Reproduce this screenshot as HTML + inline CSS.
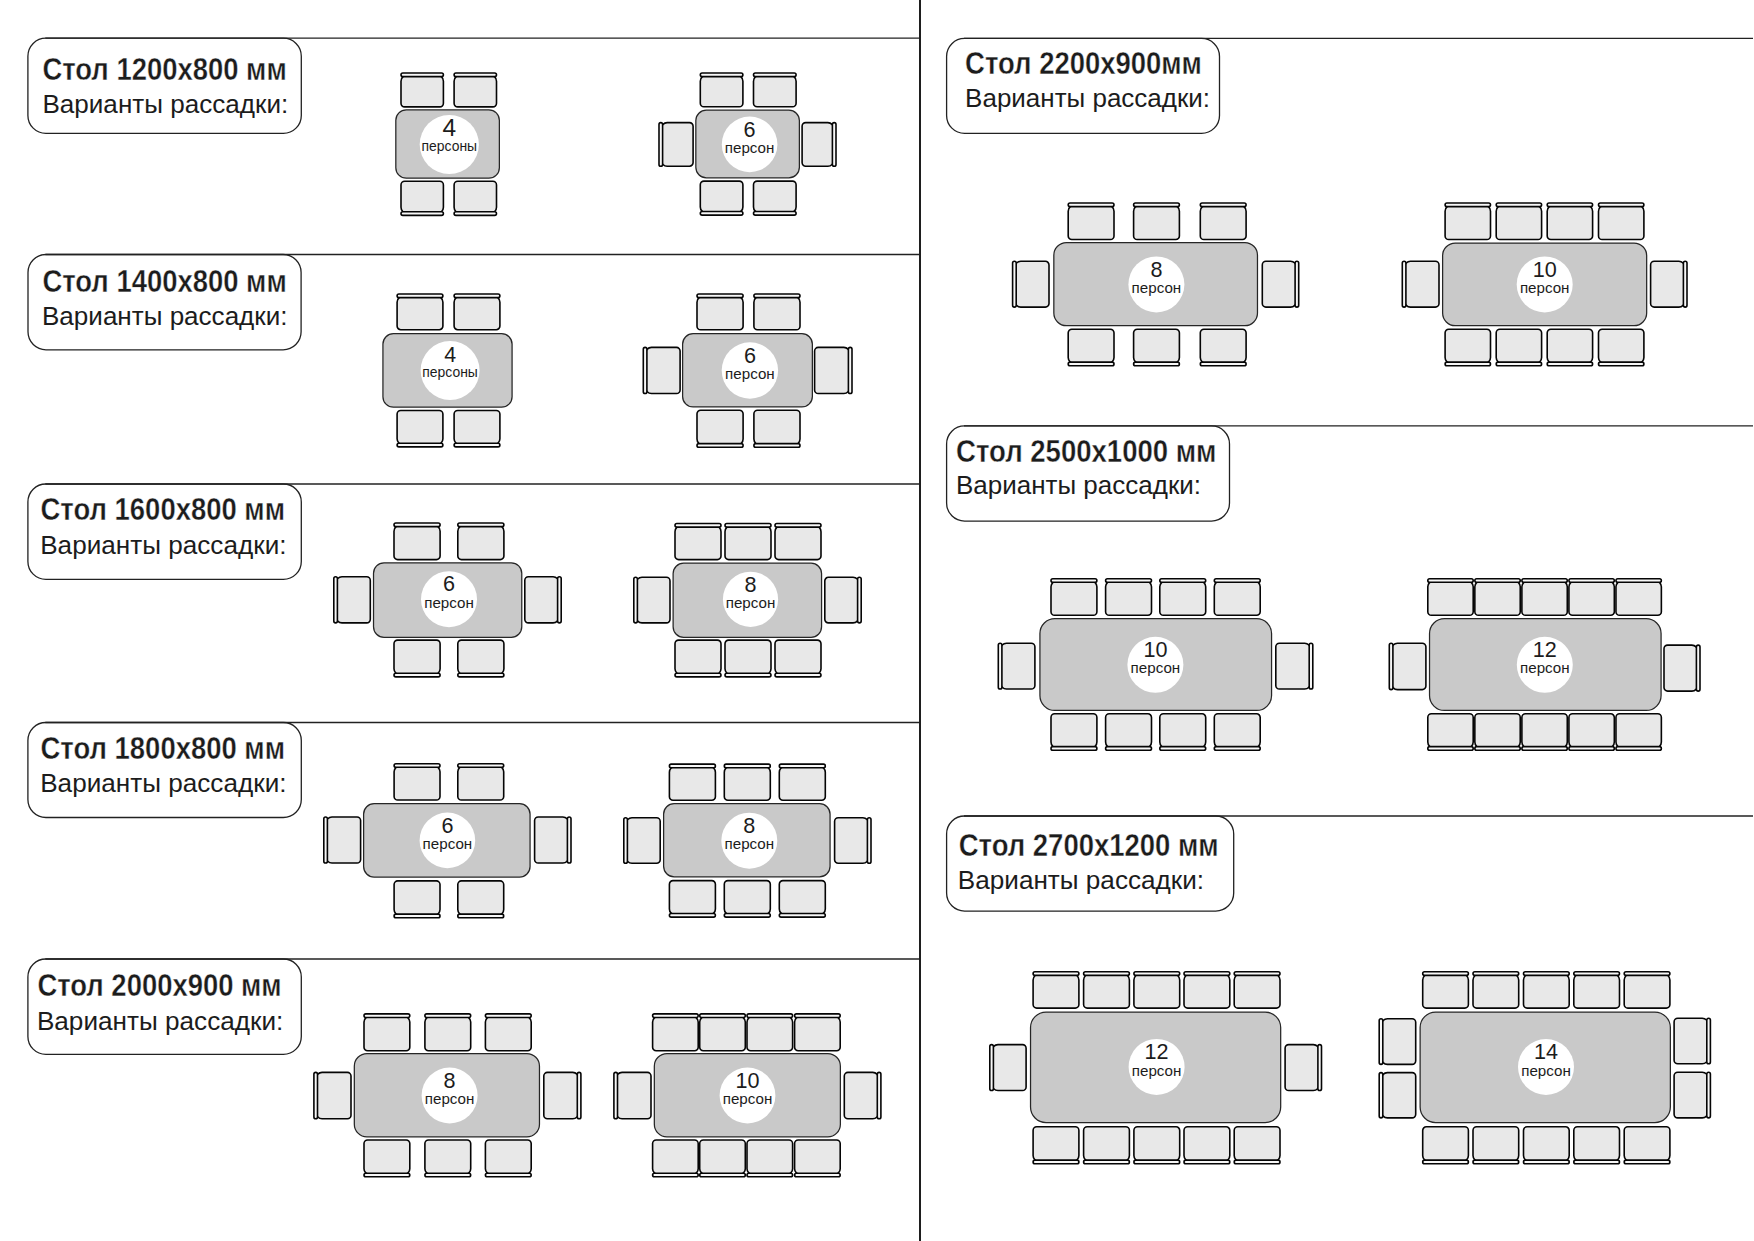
<!DOCTYPE html>
<html><head><meta charset="utf-8"><title>Рассадка</title>
<style>
html,body{margin:0;padding:0;background:#fff;width:1754px;height:1241px;overflow:hidden}
svg{display:block}
text{font-family:"Liberation Sans",sans-serif;fill:#1c1c1c}
</style></head><body>
<svg width="1754" height="1241" viewBox="0 0 1754 1241">
<line x1="45.3" y1="38.2" x2="920" y2="38.2" stroke="#222" stroke-width="1.3"/>
<line x1="45.4" y1="254.5" x2="920" y2="254.5" stroke="#222" stroke-width="1.3"/>
<line x1="45.3" y1="484" x2="920" y2="484" stroke="#222" stroke-width="1.3"/>
<line x1="45.3" y1="722.5" x2="920" y2="722.5" stroke="#222" stroke-width="1.3"/>
<line x1="45.3" y1="959" x2="920" y2="959" stroke="#222" stroke-width="1.3"/>
<line x1="964" y1="38.4" x2="1753" y2="38.4" stroke="#222" stroke-width="1.3"/>
<line x1="964" y1="425.9" x2="1753" y2="425.9" stroke="#222" stroke-width="1.3"/>
<line x1="964" y1="816" x2="1753" y2="816" stroke="#222" stroke-width="1.3"/>
<rect x="919" y="0" width="2" height="1241" fill="#1e1e1e"/>
<rect x="27.9" y="38.2" width="273.4" height="95.2" rx="18" fill="none" stroke="#222" stroke-width="1.3"/>
<text x="42.4" y="79.9" font-size="31" font-weight="bold" textLength="244.3" lengthAdjust="spacingAndGlyphs" stroke="#fff" stroke-width="0.35">Стол 1200x800 мм</text>
<text x="42.4" y="112.6" font-size="25.5" textLength="245.9" lengthAdjust="spacingAndGlyphs" class="t">Варианты рассадки:</text>
<rect x="28" y="254.5" width="273.1" height="95.3" rx="18" fill="none" stroke="#222" stroke-width="1.3"/>
<text x="42.4" y="292" font-size="31" font-weight="bold" textLength="244.3" lengthAdjust="spacingAndGlyphs" stroke="#fff" stroke-width="0.35">Стол 1400x800 мм</text>
<text x="42" y="325" font-size="25.5" textLength="245.5" lengthAdjust="spacingAndGlyphs" class="t">Варианты рассадки:</text>
<rect x="27.9" y="484" width="273.4" height="95.4" rx="18" fill="none" stroke="#222" stroke-width="1.3"/>
<text x="40.5" y="519.7" font-size="31" font-weight="bold" textLength="244.5" lengthAdjust="spacingAndGlyphs" stroke="#fff" stroke-width="0.35">Стол 1600x800 мм</text>
<text x="40.2" y="553.9" font-size="25.5" textLength="246.3" lengthAdjust="spacingAndGlyphs" class="t">Варианты рассадки:</text>
<rect x="27.9" y="722.5" width="273.4" height="95" rx="18" fill="none" stroke="#222" stroke-width="1.3"/>
<text x="40.5" y="759.2" font-size="31" font-weight="bold" textLength="244.5" lengthAdjust="spacingAndGlyphs" stroke="#fff" stroke-width="0.35">Стол 1800x800 мм</text>
<text x="40.2" y="791.7" font-size="25.5" textLength="246.3" lengthAdjust="spacingAndGlyphs" class="t">Варианты рассадки:</text>
<rect x="27.9" y="959" width="273.4" height="95.4" rx="18" fill="none" stroke="#222" stroke-width="1.3"/>
<text x="37.4" y="996.2" font-size="31" font-weight="bold" textLength="244.2" lengthAdjust="spacingAndGlyphs" stroke="#fff" stroke-width="0.35">Стол 2000x900 мм</text>
<text x="36.9" y="1030.3" font-size="25.5" textLength="246.5" lengthAdjust="spacingAndGlyphs" class="t">Варианты рассадки:</text>
<rect x="946.6" y="38.4" width="272.9" height="95" rx="18" fill="none" stroke="#222" stroke-width="1.3"/>
<text x="965.1" y="74.4" font-size="31" font-weight="bold" textLength="236.8" lengthAdjust="spacingAndGlyphs" stroke="#fff" stroke-width="0.35">Стол 2200x900мм</text>
<text x="965.1" y="106.7" font-size="25.5" textLength="245" lengthAdjust="spacingAndGlyphs" class="t">Варианты рассадки:</text>
<rect x="946.6" y="425.9" width="282.9" height="95.2" rx="18" fill="none" stroke="#222" stroke-width="1.3"/>
<text x="956" y="462" font-size="31" font-weight="bold" textLength="260.5" lengthAdjust="spacingAndGlyphs" stroke="#fff" stroke-width="0.35">Стол 2500x1000 мм</text>
<text x="956" y="494.3" font-size="25.5" textLength="245" lengthAdjust="spacingAndGlyphs" class="t">Варианты рассадки:</text>
<rect x="946.6" y="816" width="287.1" height="95.1" rx="18" fill="none" stroke="#222" stroke-width="1.3"/>
<text x="958.7" y="856.2" font-size="31" font-weight="bold" textLength="260" lengthAdjust="spacingAndGlyphs" stroke="#fff" stroke-width="0.35">Стол 2700x1200 мм</text>
<text x="957.8" y="889.4" font-size="25.5" textLength="246.3" lengthAdjust="spacingAndGlyphs" class="t">Варианты рассадки:</text>
<rect x="395.82" y="109.83" width="103.55" height="68.35" rx="10.5" fill="#c9c9c9" stroke="#262626" stroke-width="1.25"/>
<path d="M407,75.16 H437.4 A6,6 0 0 1 443.4,81.16 V103.3 A3.6,3.6 0 0 1 439.8,106.9 H404.6 A3.6,3.6 0 0 1 401,103.3 V81.16 A6,6 0 0 1 407,75.16 Z" fill="#e8e8e8" stroke="#050505" stroke-width="1.6"/>
<rect x="401" y="73" width="42.4" height="3.6" rx="1.8" fill="#f7f7f7" stroke="#050505" stroke-width="1.6"/>
<path d="M460.1,75.16 H490.5 A6,6 0 0 1 496.5,81.16 V103.3 A3.6,3.6 0 0 1 492.9,106.9 H457.7 A3.6,3.6 0 0 1 454.1,103.3 V81.16 A6,6 0 0 1 460.1,75.16 Z" fill="#e8e8e8" stroke="#050505" stroke-width="1.6"/>
<rect x="454.1" y="73" width="42.4" height="3.6" rx="1.8" fill="#f7f7f7" stroke="#050505" stroke-width="1.6"/>
<path d="M404.6,181.3 H439.8 A3.6,3.6 0 0 1 443.4,184.9 V207.24 A6,6 0 0 1 437.4,213.24 H407 A6,6 0 0 1 401,207.24 V184.9 A3.6,3.6 0 0 1 404.6,181.3 Z" fill="#e8e8e8" stroke="#050505" stroke-width="1.6"/>
<rect x="401" y="211.8" width="42.4" height="3.6" rx="1.8" fill="#f7f7f7" stroke="#050505" stroke-width="1.6"/>
<path d="M457.7,181.3 H492.9 A3.6,3.6 0 0 1 496.5,184.9 V207.24 A6,6 0 0 1 490.5,213.24 H460.1 A6,6 0 0 1 454.1,207.24 V184.9 A3.6,3.6 0 0 1 457.7,181.3 Z" fill="#e8e8e8" stroke="#050505" stroke-width="1.6"/>
<rect x="454.1" y="211.8" width="42.4" height="3.6" rx="1.8" fill="#f7f7f7" stroke="#050505" stroke-width="1.6"/>
<circle cx="449.3" cy="144.5" r="29.6" fill="#fff"/>
<text x="449.3" y="135.8" font-size="24.5" text-anchor="middle" class="n">4</text>
<text x="421.55" y="150.6" font-size="14.4" textLength="55.5" lengthAdjust="spacingAndGlyphs" class="n">персоны</text>
<rect x="695.83" y="110.12" width="103.55" height="67.65" rx="10.5" fill="#c9c9c9" stroke="#262626" stroke-width="1.25"/>
<path d="M706.3,75.16 H736.9 A6,6 0 0 1 742.9,81.16 V103.2 A3.6,3.6 0 0 1 739.3,106.8 H703.9 A3.6,3.6 0 0 1 700.3,103.2 V81.16 A6,6 0 0 1 706.3,75.16 Z" fill="#e8e8e8" stroke="#050505" stroke-width="1.6"/>
<rect x="700.3" y="73" width="42.6" height="3.6" rx="1.8" fill="#f7f7f7" stroke="#050505" stroke-width="1.6"/>
<path d="M759.5,75.16 H790.1 A6,6 0 0 1 796.1,81.16 V103.2 A3.6,3.6 0 0 1 792.5,106.8 H757.1 A3.6,3.6 0 0 1 753.5,103.2 V81.16 A6,6 0 0 1 759.5,75.16 Z" fill="#e8e8e8" stroke="#050505" stroke-width="1.6"/>
<rect x="753.5" y="73" width="42.6" height="3.6" rx="1.8" fill="#f7f7f7" stroke="#050505" stroke-width="1.6"/>
<path d="M703.9,181.1 H739.3 A3.6,3.6 0 0 1 742.9,184.7 V206.94 A6,6 0 0 1 736.9,212.94 H706.3 A6,6 0 0 1 700.3,206.94 V184.7 A3.6,3.6 0 0 1 703.9,181.1 Z" fill="#e8e8e8" stroke="#050505" stroke-width="1.6"/>
<rect x="700.3" y="211.5" width="42.6" height="3.6" rx="1.8" fill="#f7f7f7" stroke="#050505" stroke-width="1.6"/>
<path d="M757.1,181.1 H792.5 A3.6,3.6 0 0 1 796.1,184.7 V206.94 A6,6 0 0 1 790.1,212.94 H759.5 A6,6 0 0 1 753.5,206.94 V184.7 A3.6,3.6 0 0 1 757.1,181.1 Z" fill="#e8e8e8" stroke="#050505" stroke-width="1.6"/>
<rect x="753.5" y="211.5" width="42.6" height="3.6" rx="1.8" fill="#f7f7f7" stroke="#050505" stroke-width="1.6"/>
<path d="M667.16,122.6 H689.5 A3.6,3.6 0 0 1 693.1,126.2 V162.6 A3.6,3.6 0 0 1 689.5,166.2 H667.16 A6,6 0 0 1 661.16,160.2 V128.6 A6,6 0 0 1 667.16,122.6 Z" fill="#e8e8e8" stroke="#050505" stroke-width="1.6"/>
<rect x="659" y="122.6" width="3.6" height="43.6" rx="1.8" fill="#f7f7f7" stroke="#050505" stroke-width="1.6"/>
<path d="M805.7,122.6 H827.84 A6,6 0 0 1 833.84,128.6 V160.2 A6,6 0 0 1 827.84,166.2 H805.7 A3.6,3.6 0 0 1 802.1,162.6 V126.2 A3.6,3.6 0 0 1 805.7,122.6 Z" fill="#e8e8e8" stroke="#050505" stroke-width="1.6"/>
<rect x="832.4" y="122.6" width="3.6" height="43.6" rx="1.8" fill="#f7f7f7" stroke="#050505" stroke-width="1.6"/>
<circle cx="749.6" cy="144.4" r="27.8" fill="#fff"/>
<text x="749.6" y="136.6" font-size="21.6" text-anchor="middle" class="n">6</text>
<text x="724.8" y="153" font-size="15" textLength="49.6" lengthAdjust="spacingAndGlyphs" class="n">персон</text>
<rect x="382.93" y="333.62" width="129.15" height="73.55" rx="10.5" fill="#c9c9c9" stroke="#262626" stroke-width="1.25"/>
<path d="M403.1,296.16 H436.9 A6,6 0 0 1 442.9,302.16 V326.1 A3.6,3.6 0 0 1 439.3,329.7 H400.7 A3.6,3.6 0 0 1 397.1,326.1 V302.16 A6,6 0 0 1 403.1,296.16 Z" fill="#e8e8e8" stroke="#050505" stroke-width="1.6"/>
<rect x="397.1" y="294" width="45.8" height="3.6" rx="1.8" fill="#f7f7f7" stroke="#050505" stroke-width="1.6"/>
<path d="M460.1,296.16 H493.9 A6,6 0 0 1 499.9,302.16 V326.1 A3.6,3.6 0 0 1 496.3,329.7 H457.7 A3.6,3.6 0 0 1 454.1,326.1 V302.16 A6,6 0 0 1 460.1,296.16 Z" fill="#e8e8e8" stroke="#050505" stroke-width="1.6"/>
<rect x="454.1" y="294" width="45.8" height="3.6" rx="1.8" fill="#f7f7f7" stroke="#050505" stroke-width="1.6"/>
<path d="M400.7,410.5 H439.3 A3.6,3.6 0 0 1 442.9,414.1 V438.74 A6,6 0 0 1 436.9,444.74 H403.1 A6,6 0 0 1 397.1,438.74 V414.1 A3.6,3.6 0 0 1 400.7,410.5 Z" fill="#e8e8e8" stroke="#050505" stroke-width="1.6"/>
<rect x="397.1" y="443.3" width="45.8" height="3.6" rx="1.8" fill="#f7f7f7" stroke="#050505" stroke-width="1.6"/>
<path d="M457.7,410.5 H496.3 A3.6,3.6 0 0 1 499.9,414.1 V438.74 A6,6 0 0 1 493.9,444.74 H460.1 A6,6 0 0 1 454.1,438.74 V414.1 A3.6,3.6 0 0 1 457.7,410.5 Z" fill="#e8e8e8" stroke="#050505" stroke-width="1.6"/>
<rect x="454.1" y="443.3" width="45.8" height="3.6" rx="1.8" fill="#f7f7f7" stroke="#050505" stroke-width="1.6"/>
<circle cx="450.1" cy="370.5" r="29.5" fill="#fff"/>
<text x="450.1" y="361.8" font-size="21.4" text-anchor="middle" class="n">4</text>
<text x="422.35" y="376.6" font-size="14.4" textLength="55.5" lengthAdjust="spacingAndGlyphs" class="n">персоны</text>
<rect x="682.62" y="333.62" width="129.75" height="73.35" rx="10.5" fill="#c9c9c9" stroke="#262626" stroke-width="1.25"/>
<path d="M703,296.16 H737.1 A6,6 0 0 1 743.1,302.16 V326.2 A3.6,3.6 0 0 1 739.5,329.8 H700.6 A3.6,3.6 0 0 1 697,326.2 V302.16 A6,6 0 0 1 703,296.16 Z" fill="#e8e8e8" stroke="#050505" stroke-width="1.6"/>
<rect x="697" y="294" width="46.1" height="3.6" rx="1.8" fill="#f7f7f7" stroke="#050505" stroke-width="1.6"/>
<path d="M759.9,296.16 H794 A6,6 0 0 1 800,302.16 V326.2 A3.6,3.6 0 0 1 796.4,329.8 H757.5 A3.6,3.6 0 0 1 753.9,326.2 V302.16 A6,6 0 0 1 759.9,296.16 Z" fill="#e8e8e8" stroke="#050505" stroke-width="1.6"/>
<rect x="753.9" y="294" width="46.1" height="3.6" rx="1.8" fill="#f7f7f7" stroke="#050505" stroke-width="1.6"/>
<path d="M700.6,410.2 H739.5 A3.6,3.6 0 0 1 743.1,413.8 V439.04 A6,6 0 0 1 737.1,445.04 H703 A6,6 0 0 1 697,439.04 V413.8 A3.6,3.6 0 0 1 700.6,410.2 Z" fill="#e8e8e8" stroke="#050505" stroke-width="1.6"/>
<rect x="697" y="443.6" width="46.1" height="3.6" rx="1.8" fill="#f7f7f7" stroke="#050505" stroke-width="1.6"/>
<path d="M757.5,410.2 H796.4 A3.6,3.6 0 0 1 800,413.8 V439.04 A6,6 0 0 1 794,445.04 H759.9 A6,6 0 0 1 753.9,439.04 V413.8 A3.6,3.6 0 0 1 757.5,410.2 Z" fill="#e8e8e8" stroke="#050505" stroke-width="1.6"/>
<rect x="753.9" y="443.6" width="46.1" height="3.6" rx="1.8" fill="#f7f7f7" stroke="#050505" stroke-width="1.6"/>
<path d="M651.46,347.4 H676.5 A3.6,3.6 0 0 1 680.1,351 V389.9 A3.6,3.6 0 0 1 676.5,393.5 H651.46 A6,6 0 0 1 645.46,387.5 V353.4 A6,6 0 0 1 651.46,347.4 Z" fill="#e8e8e8" stroke="#050505" stroke-width="1.6"/>
<rect x="643.3" y="347.4" width="3.6" height="46.1" rx="1.8" fill="#f7f7f7" stroke="#050505" stroke-width="1.6"/>
<path d="M818.2,347.4 H843.84 A6,6 0 0 1 849.84,353.4 V387.5 A6,6 0 0 1 843.84,393.5 H818.2 A3.6,3.6 0 0 1 814.6,389.9 V351 A3.6,3.6 0 0 1 818.2,347.4 Z" fill="#e8e8e8" stroke="#050505" stroke-width="1.6"/>
<rect x="848.4" y="347.4" width="3.6" height="46.1" rx="1.8" fill="#f7f7f7" stroke="#050505" stroke-width="1.6"/>
<circle cx="749.9" cy="370.5" r="28.2" fill="#fff"/>
<text x="749.9" y="362.7" font-size="21.6" text-anchor="middle" class="n">6</text>
<text x="725.1" y="379.1" font-size="15" textLength="49.6" lengthAdjust="spacingAndGlyphs" class="n">персон</text>
<rect x="373.52" y="562.83" width="148.25" height="74.45" rx="10.5" fill="#c9c9c9" stroke="#262626" stroke-width="1.25"/>
<path d="M400,525.16 H434.1 A6,6 0 0 1 440.1,531.16 V556 A3.6,3.6 0 0 1 436.5,559.6 H397.6 A3.6,3.6 0 0 1 394,556 V531.16 A6,6 0 0 1 400,525.16 Z" fill="#e8e8e8" stroke="#050505" stroke-width="1.6"/>
<rect x="394" y="523" width="46.1" height="3.6" rx="1.8" fill="#f7f7f7" stroke="#050505" stroke-width="1.6"/>
<path d="M463.8,525.16 H497.9 A6,6 0 0 1 503.9,531.16 V556 A3.6,3.6 0 0 1 500.3,559.6 H461.4 A3.6,3.6 0 0 1 457.8,556 V531.16 A6,6 0 0 1 463.8,525.16 Z" fill="#e8e8e8" stroke="#050505" stroke-width="1.6"/>
<rect x="457.8" y="523" width="46.1" height="3.6" rx="1.8" fill="#f7f7f7" stroke="#050505" stroke-width="1.6"/>
<path d="M397.6,640.1 H436.5 A3.6,3.6 0 0 1 440.1,643.7 V668.74 A6,6 0 0 1 434.1,674.74 H400 A6,6 0 0 1 394,668.74 V643.7 A3.6,3.6 0 0 1 397.6,640.1 Z" fill="#e8e8e8" stroke="#050505" stroke-width="1.6"/>
<rect x="394" y="673.3" width="46.1" height="3.6" rx="1.8" fill="#f7f7f7" stroke="#050505" stroke-width="1.6"/>
<path d="M461.4,640.1 H500.3 A3.6,3.6 0 0 1 503.9,643.7 V668.74 A6,6 0 0 1 497.9,674.74 H463.8 A6,6 0 0 1 457.8,668.74 V643.7 A3.6,3.6 0 0 1 461.4,640.1 Z" fill="#e8e8e8" stroke="#050505" stroke-width="1.6"/>
<rect x="457.8" y="673.3" width="46.1" height="3.6" rx="1.8" fill="#f7f7f7" stroke="#050505" stroke-width="1.6"/>
<path d="M341.96,576.8 H366.7 A3.6,3.6 0 0 1 370.3,580.4 V619.3 A3.6,3.6 0 0 1 366.7,622.9 H341.96 A6,6 0 0 1 335.96,616.9 V582.8 A6,6 0 0 1 341.96,576.8 Z" fill="#e8e8e8" stroke="#050505" stroke-width="1.6"/>
<rect x="333.8" y="576.8" width="3.6" height="46.1" rx="1.8" fill="#f7f7f7" stroke="#050505" stroke-width="1.6"/>
<path d="M528.4,576.8 H553.04 A6,6 0 0 1 559.04,582.8 V616.9 A6,6 0 0 1 553.04,622.9 H528.4 A3.6,3.6 0 0 1 524.8,619.3 V580.4 A3.6,3.6 0 0 1 528.4,576.8 Z" fill="#e8e8e8" stroke="#050505" stroke-width="1.6"/>
<rect x="557.6" y="576.8" width="3.6" height="46.1" rx="1.8" fill="#f7f7f7" stroke="#050505" stroke-width="1.6"/>
<circle cx="449" cy="599.2" r="28" fill="#fff"/>
<text x="449" y="591.4" font-size="21.6" text-anchor="middle" class="n">6</text>
<text x="424.2" y="607.8" font-size="15" textLength="49.6" lengthAdjust="spacingAndGlyphs" class="n">персон</text>
<rect x="673.12" y="563.12" width="148.45" height="74.15" rx="10.5" fill="#c9c9c9" stroke="#262626" stroke-width="1.25"/>
<path d="M681,525.66 H715 A6,6 0 0 1 721,531.66 V556 A3.6,3.6 0 0 1 717.4,559.6 H678.6 A3.6,3.6 0 0 1 675,556 V531.66 A6,6 0 0 1 681,525.66 Z" fill="#e8e8e8" stroke="#050505" stroke-width="1.6"/>
<rect x="675" y="523.5" width="46" height="3.6" rx="1.8" fill="#f7f7f7" stroke="#050505" stroke-width="1.6"/>
<path d="M731,525.66 H765 A6,6 0 0 1 771,531.66 V556 A3.6,3.6 0 0 1 767.4,559.6 H728.6 A3.6,3.6 0 0 1 725,556 V531.66 A6,6 0 0 1 731,525.66 Z" fill="#e8e8e8" stroke="#050505" stroke-width="1.6"/>
<rect x="725" y="523.5" width="46" height="3.6" rx="1.8" fill="#f7f7f7" stroke="#050505" stroke-width="1.6"/>
<path d="M781,525.66 H815 A6,6 0 0 1 821,531.66 V556 A3.6,3.6 0 0 1 817.4,559.6 H778.6 A3.6,3.6 0 0 1 775,556 V531.66 A6,6 0 0 1 781,525.66 Z" fill="#e8e8e8" stroke="#050505" stroke-width="1.6"/>
<rect x="775" y="523.5" width="46" height="3.6" rx="1.8" fill="#f7f7f7" stroke="#050505" stroke-width="1.6"/>
<path d="M678.6,640.1 H717.4 A3.6,3.6 0 0 1 721,643.7 V668.74 A6,6 0 0 1 715,674.74 H681 A6,6 0 0 1 675,668.74 V643.7 A3.6,3.6 0 0 1 678.6,640.1 Z" fill="#e8e8e8" stroke="#050505" stroke-width="1.6"/>
<rect x="675" y="673.3" width="46" height="3.6" rx="1.8" fill="#f7f7f7" stroke="#050505" stroke-width="1.6"/>
<path d="M728.6,640.1 H767.4 A3.6,3.6 0 0 1 771,643.7 V668.74 A6,6 0 0 1 765,674.74 H731 A6,6 0 0 1 725,668.74 V643.7 A3.6,3.6 0 0 1 728.6,640.1 Z" fill="#e8e8e8" stroke="#050505" stroke-width="1.6"/>
<rect x="725" y="673.3" width="46" height="3.6" rx="1.8" fill="#f7f7f7" stroke="#050505" stroke-width="1.6"/>
<path d="M778.6,640.1 H817.4 A3.6,3.6 0 0 1 821,643.7 V668.74 A6,6 0 0 1 815,674.74 H781 A6,6 0 0 1 775,668.74 V643.7 A3.6,3.6 0 0 1 778.6,640.1 Z" fill="#e8e8e8" stroke="#050505" stroke-width="1.6"/>
<rect x="775" y="673.3" width="46" height="3.6" rx="1.8" fill="#f7f7f7" stroke="#050505" stroke-width="1.6"/>
<path d="M641.96,577.3 H666.4 A3.6,3.6 0 0 1 670,580.9 V619.3 A3.6,3.6 0 0 1 666.4,622.9 H641.96 A6,6 0 0 1 635.96,616.9 V583.3 A6,6 0 0 1 641.96,577.3 Z" fill="#e8e8e8" stroke="#050505" stroke-width="1.6"/>
<rect x="633.8" y="577.3" width="3.6" height="45.6" rx="1.8" fill="#f7f7f7" stroke="#050505" stroke-width="1.6"/>
<path d="M828.4,577.3 H853.04 A6,6 0 0 1 859.04,583.3 V616.9 A6,6 0 0 1 853.04,622.9 H828.4 A3.6,3.6 0 0 1 824.8,619.3 V580.9 A3.6,3.6 0 0 1 828.4,577.3 Z" fill="#e8e8e8" stroke="#050505" stroke-width="1.6"/>
<rect x="857.6" y="577.3" width="3.6" height="45.6" rx="1.8" fill="#f7f7f7" stroke="#050505" stroke-width="1.6"/>
<circle cx="750.5" cy="599.3" r="27.6" fill="#fff"/>
<text x="750.5" y="591.5" font-size="21.6" text-anchor="middle" class="n">8</text>
<text x="725.7" y="607.9" font-size="15" textLength="49.6" lengthAdjust="spacingAndGlyphs" class="n">персон</text>
<rect x="363.62" y="803.62" width="166.45" height="73.45" rx="10.5" fill="#c9c9c9" stroke="#262626" stroke-width="1.25"/>
<path d="M400.1,765.86 H434 A6,6 0 0 1 440,771.86 V796.4 A3.6,3.6 0 0 1 436.4,800 H397.7 A3.6,3.6 0 0 1 394.1,796.4 V771.86 A6,6 0 0 1 400.1,765.86 Z" fill="#e8e8e8" stroke="#050505" stroke-width="1.6"/>
<rect x="394.1" y="763.7" width="45.9" height="3.6" rx="1.8" fill="#f7f7f7" stroke="#050505" stroke-width="1.6"/>
<path d="M463.8,765.86 H497.7 A6,6 0 0 1 503.7,771.86 V796.4 A3.6,3.6 0 0 1 500.1,800 H461.4 A3.6,3.6 0 0 1 457.8,796.4 V771.86 A6,6 0 0 1 463.8,765.86 Z" fill="#e8e8e8" stroke="#050505" stroke-width="1.6"/>
<rect x="457.8" y="763.7" width="45.9" height="3.6" rx="1.8" fill="#f7f7f7" stroke="#050505" stroke-width="1.6"/>
<path d="M397.7,880.9 H436.4 A3.6,3.6 0 0 1 440,884.5 V909.54 A6,6 0 0 1 434,915.54 H400.1 A6,6 0 0 1 394.1,909.54 V884.5 A3.6,3.6 0 0 1 397.7,880.9 Z" fill="#e8e8e8" stroke="#050505" stroke-width="1.6"/>
<rect x="394.1" y="914.1" width="45.9" height="3.6" rx="1.8" fill="#f7f7f7" stroke="#050505" stroke-width="1.6"/>
<path d="M461.4,880.9 H500.1 A3.6,3.6 0 0 1 503.7,884.5 V909.54 A6,6 0 0 1 497.7,915.54 H463.8 A6,6 0 0 1 457.8,909.54 V884.5 A3.6,3.6 0 0 1 461.4,880.9 Z" fill="#e8e8e8" stroke="#050505" stroke-width="1.6"/>
<rect x="457.8" y="914.1" width="45.9" height="3.6" rx="1.8" fill="#f7f7f7" stroke="#050505" stroke-width="1.6"/>
<path d="M331.96,817 H357 A3.6,3.6 0 0 1 360.6,820.6 V859.4 A3.6,3.6 0 0 1 357,863 H331.96 A6,6 0 0 1 325.96,857 V823 A6,6 0 0 1 331.96,817 Z" fill="#e8e8e8" stroke="#050505" stroke-width="1.6"/>
<rect x="323.8" y="817" width="3.6" height="46" rx="1.8" fill="#f7f7f7" stroke="#050505" stroke-width="1.6"/>
<path d="M538.2,817 H562.84 A6,6 0 0 1 568.84,823 V857 A6,6 0 0 1 562.84,863 H538.2 A3.6,3.6 0 0 1 534.6,859.4 V820.6 A3.6,3.6 0 0 1 538.2,817 Z" fill="#e8e8e8" stroke="#050505" stroke-width="1.6"/>
<rect x="567.4" y="817" width="3.6" height="46" rx="1.8" fill="#f7f7f7" stroke="#050505" stroke-width="1.6"/>
<circle cx="447.4" cy="840.4" r="27.8" fill="#fff"/>
<text x="447.4" y="832.6" font-size="21.6" text-anchor="middle" class="n">6</text>
<text x="422.6" y="849" font-size="15" textLength="49.6" lengthAdjust="spacingAndGlyphs" class="n">персон</text>
<rect x="663.62" y="803.62" width="166.45" height="73.15" rx="10.5" fill="#c9c9c9" stroke="#262626" stroke-width="1.25"/>
<path d="M675.4,766.26 H709.4 A6,6 0 0 1 715.4,772.26 V796.7 A3.6,3.6 0 0 1 711.8,800.3 H673 A3.6,3.6 0 0 1 669.4,796.7 V772.26 A6,6 0 0 1 675.4,766.26 Z" fill="#e8e8e8" stroke="#050505" stroke-width="1.6"/>
<rect x="669.4" y="764.1" width="46" height="3.6" rx="1.8" fill="#f7f7f7" stroke="#050505" stroke-width="1.6"/>
<path d="M730.3,766.26 H764.3 A6,6 0 0 1 770.3,772.26 V796.7 A3.6,3.6 0 0 1 766.7,800.3 H727.9 A3.6,3.6 0 0 1 724.3,796.7 V772.26 A6,6 0 0 1 730.3,766.26 Z" fill="#e8e8e8" stroke="#050505" stroke-width="1.6"/>
<rect x="724.3" y="764.1" width="46" height="3.6" rx="1.8" fill="#f7f7f7" stroke="#050505" stroke-width="1.6"/>
<path d="M785.3,766.26 H819.3 A6,6 0 0 1 825.3,772.26 V796.7 A3.6,3.6 0 0 1 821.7,800.3 H782.9 A3.6,3.6 0 0 1 779.3,796.7 V772.26 A6,6 0 0 1 785.3,766.26 Z" fill="#e8e8e8" stroke="#050505" stroke-width="1.6"/>
<rect x="779.3" y="764.1" width="46" height="3.6" rx="1.8" fill="#f7f7f7" stroke="#050505" stroke-width="1.6"/>
<path d="M673,880.6 H711.8 A3.6,3.6 0 0 1 715.4,884.2 V908.94 A6,6 0 0 1 709.4,914.94 H675.4 A6,6 0 0 1 669.4,908.94 V884.2 A3.6,3.6 0 0 1 673,880.6 Z" fill="#e8e8e8" stroke="#050505" stroke-width="1.6"/>
<rect x="669.4" y="913.5" width="46" height="3.6" rx="1.8" fill="#f7f7f7" stroke="#050505" stroke-width="1.6"/>
<path d="M727.9,880.6 H766.7 A3.6,3.6 0 0 1 770.3,884.2 V908.94 A6,6 0 0 1 764.3,914.94 H730.3 A6,6 0 0 1 724.3,908.94 V884.2 A3.6,3.6 0 0 1 727.9,880.6 Z" fill="#e8e8e8" stroke="#050505" stroke-width="1.6"/>
<rect x="724.3" y="913.5" width="46" height="3.6" rx="1.8" fill="#f7f7f7" stroke="#050505" stroke-width="1.6"/>
<path d="M782.9,880.6 H821.7 A3.6,3.6 0 0 1 825.3,884.2 V908.94 A6,6 0 0 1 819.3,914.94 H785.3 A6,6 0 0 1 779.3,908.94 V884.2 A3.6,3.6 0 0 1 782.9,880.6 Z" fill="#e8e8e8" stroke="#050505" stroke-width="1.6"/>
<rect x="779.3" y="913.5" width="46" height="3.6" rx="1.8" fill="#f7f7f7" stroke="#050505" stroke-width="1.6"/>
<path d="M631.96,817.8 H656.6 A3.6,3.6 0 0 1 660.2,821.4 V859.7 A3.6,3.6 0 0 1 656.6,863.3 H631.96 A6,6 0 0 1 625.96,857.3 V823.8 A6,6 0 0 1 631.96,817.8 Z" fill="#e8e8e8" stroke="#050505" stroke-width="1.6"/>
<rect x="623.8" y="817.8" width="3.6" height="45.5" rx="1.8" fill="#f7f7f7" stroke="#050505" stroke-width="1.6"/>
<path d="M838.2,817.8 H862.84 A6,6 0 0 1 868.84,823.8 V857.3 A6,6 0 0 1 862.84,863.3 H838.2 A3.6,3.6 0 0 1 834.6,859.7 V821.4 A3.6,3.6 0 0 1 838.2,817.8 Z" fill="#e8e8e8" stroke="#050505" stroke-width="1.6"/>
<rect x="867.4" y="817.8" width="3.6" height="45.5" rx="1.8" fill="#f7f7f7" stroke="#050505" stroke-width="1.6"/>
<circle cx="749.3" cy="840.7" r="28" fill="#fff"/>
<text x="749.3" y="832.9" font-size="21.6" text-anchor="middle" class="n">8</text>
<text x="724.5" y="849.3" font-size="15" textLength="49.6" lengthAdjust="spacingAndGlyphs" class="n">персон</text>
<rect x="354.32" y="1053.53" width="185.15" height="83.25" rx="12.6" fill="#c9c9c9" stroke="#262626" stroke-width="1.25"/>
<path d="M370,1016.06 H403.8 A6,6 0 0 1 409.8,1022.06 V1047.2 A3.6,3.6 0 0 1 406.2,1050.8 H367.6 A3.6,3.6 0 0 1 364,1047.2 V1022.06 A6,6 0 0 1 370,1016.06 Z" fill="#e8e8e8" stroke="#050505" stroke-width="1.6"/>
<rect x="364" y="1013.9" width="45.8" height="3.6" rx="1.8" fill="#f7f7f7" stroke="#050505" stroke-width="1.6"/>
<path d="M430.9,1016.06 H464.7 A6,6 0 0 1 470.7,1022.06 V1047.2 A3.6,3.6 0 0 1 467.1,1050.8 H428.5 A3.6,3.6 0 0 1 424.9,1047.2 V1022.06 A6,6 0 0 1 430.9,1016.06 Z" fill="#e8e8e8" stroke="#050505" stroke-width="1.6"/>
<rect x="424.9" y="1013.9" width="45.8" height="3.6" rx="1.8" fill="#f7f7f7" stroke="#050505" stroke-width="1.6"/>
<path d="M491.4,1016.06 H525.2 A6,6 0 0 1 531.2,1022.06 V1047.2 A3.6,3.6 0 0 1 527.6,1050.8 H489 A3.6,3.6 0 0 1 485.4,1047.2 V1022.06 A6,6 0 0 1 491.4,1016.06 Z" fill="#e8e8e8" stroke="#050505" stroke-width="1.6"/>
<rect x="485.4" y="1013.9" width="45.8" height="3.6" rx="1.8" fill="#f7f7f7" stroke="#050505" stroke-width="1.6"/>
<path d="M367.6,1140 H406.2 A3.6,3.6 0 0 1 409.8,1143.6 V1168.64 A6,6 0 0 1 403.8,1174.64 H370 A6,6 0 0 1 364,1168.64 V1143.6 A3.6,3.6 0 0 1 367.6,1140 Z" fill="#e8e8e8" stroke="#050505" stroke-width="1.6"/>
<rect x="364" y="1173.2" width="45.8" height="3.6" rx="1.8" fill="#f7f7f7" stroke="#050505" stroke-width="1.6"/>
<path d="M428.5,1140 H467.1 A3.6,3.6 0 0 1 470.7,1143.6 V1168.64 A6,6 0 0 1 464.7,1174.64 H430.9 A6,6 0 0 1 424.9,1168.64 V1143.6 A3.6,3.6 0 0 1 428.5,1140 Z" fill="#e8e8e8" stroke="#050505" stroke-width="1.6"/>
<rect x="424.9" y="1173.2" width="45.8" height="3.6" rx="1.8" fill="#f7f7f7" stroke="#050505" stroke-width="1.6"/>
<path d="M489,1140 H527.6 A3.6,3.6 0 0 1 531.2,1143.6 V1168.64 A6,6 0 0 1 525.2,1174.64 H491.4 A6,6 0 0 1 485.4,1168.64 V1143.6 A3.6,3.6 0 0 1 489,1140 Z" fill="#e8e8e8" stroke="#050505" stroke-width="1.6"/>
<rect x="485.4" y="1173.2" width="45.8" height="3.6" rx="1.8" fill="#f7f7f7" stroke="#050505" stroke-width="1.6"/>
<path d="M322.06,1072.4 H347.4 A3.6,3.6 0 0 1 351,1076 V1115.2 A3.6,3.6 0 0 1 347.4,1118.8 H322.06 A6,6 0 0 1 316.06,1112.8 V1078.4 A6,6 0 0 1 322.06,1072.4 Z" fill="#e8e8e8" stroke="#050505" stroke-width="1.6"/>
<rect x="313.9" y="1072.4" width="3.6" height="46.4" rx="1.8" fill="#f7f7f7" stroke="#050505" stroke-width="1.6"/>
<path d="M547.4,1072.4 H572.74 A6,6 0 0 1 578.74,1078.4 V1112.8 A6,6 0 0 1 572.74,1118.8 H547.4 A3.6,3.6 0 0 1 543.8,1115.2 V1076 A3.6,3.6 0 0 1 547.4,1072.4 Z" fill="#e8e8e8" stroke="#050505" stroke-width="1.6"/>
<rect x="577.3" y="1072.4" width="3.6" height="46.4" rx="1.8" fill="#f7f7f7" stroke="#050505" stroke-width="1.6"/>
<circle cx="449.6" cy="1095.5" r="28" fill="#fff"/>
<text x="449.6" y="1087.7" font-size="21.6" text-anchor="middle" class="n">8</text>
<text x="424.8" y="1104.1" font-size="15" textLength="49.6" lengthAdjust="spacingAndGlyphs" class="n">персон</text>
<rect x="654.33" y="1053.53" width="186.05" height="83.25" rx="12.6" fill="#c9c9c9" stroke="#262626" stroke-width="1.25"/>
<path d="M658.6,1016.06 H692.2 A6,6 0 0 1 698.2,1022.06 V1047.2 A3.6,3.6 0 0 1 694.6,1050.8 H656.2 A3.6,3.6 0 0 1 652.6,1047.2 V1022.06 A6,6 0 0 1 658.6,1016.06 Z" fill="#e8e8e8" stroke="#050505" stroke-width="1.6"/>
<rect x="652.6" y="1013.9" width="45.6" height="3.6" rx="1.8" fill="#f7f7f7" stroke="#050505" stroke-width="1.6"/>
<path d="M705.7,1016.06 H739.3 A6,6 0 0 1 745.3,1022.06 V1047.2 A3.6,3.6 0 0 1 741.7,1050.8 H703.3 A3.6,3.6 0 0 1 699.7,1047.2 V1022.06 A6,6 0 0 1 705.7,1016.06 Z" fill="#e8e8e8" stroke="#050505" stroke-width="1.6"/>
<rect x="699.7" y="1013.9" width="45.6" height="3.6" rx="1.8" fill="#f7f7f7" stroke="#050505" stroke-width="1.6"/>
<path d="M753,1016.06 H786.6 A6,6 0 0 1 792.6,1022.06 V1047.2 A3.6,3.6 0 0 1 789,1050.8 H750.6 A3.6,3.6 0 0 1 747,1047.2 V1022.06 A6,6 0 0 1 753,1016.06 Z" fill="#e8e8e8" stroke="#050505" stroke-width="1.6"/>
<rect x="747" y="1013.9" width="45.6" height="3.6" rx="1.8" fill="#f7f7f7" stroke="#050505" stroke-width="1.6"/>
<path d="M800.6,1016.06 H834.2 A6,6 0 0 1 840.2,1022.06 V1047.2 A3.6,3.6 0 0 1 836.6,1050.8 H798.2 A3.6,3.6 0 0 1 794.6,1047.2 V1022.06 A6,6 0 0 1 800.6,1016.06 Z" fill="#e8e8e8" stroke="#050505" stroke-width="1.6"/>
<rect x="794.6" y="1013.9" width="45.6" height="3.6" rx="1.8" fill="#f7f7f7" stroke="#050505" stroke-width="1.6"/>
<path d="M656.2,1140 H694.6 A3.6,3.6 0 0 1 698.2,1143.6 V1168.64 A6,6 0 0 1 692.2,1174.64 H658.6 A6,6 0 0 1 652.6,1168.64 V1143.6 A3.6,3.6 0 0 1 656.2,1140 Z" fill="#e8e8e8" stroke="#050505" stroke-width="1.6"/>
<rect x="652.6" y="1173.2" width="45.6" height="3.6" rx="1.8" fill="#f7f7f7" stroke="#050505" stroke-width="1.6"/>
<path d="M703.3,1140 H741.7 A3.6,3.6 0 0 1 745.3,1143.6 V1168.64 A6,6 0 0 1 739.3,1174.64 H705.7 A6,6 0 0 1 699.7,1168.64 V1143.6 A3.6,3.6 0 0 1 703.3,1140 Z" fill="#e8e8e8" stroke="#050505" stroke-width="1.6"/>
<rect x="699.7" y="1173.2" width="45.6" height="3.6" rx="1.8" fill="#f7f7f7" stroke="#050505" stroke-width="1.6"/>
<path d="M750.6,1140 H789 A3.6,3.6 0 0 1 792.6,1143.6 V1168.64 A6,6 0 0 1 786.6,1174.64 H753 A6,6 0 0 1 747,1168.64 V1143.6 A3.6,3.6 0 0 1 750.6,1140 Z" fill="#e8e8e8" stroke="#050505" stroke-width="1.6"/>
<rect x="747" y="1173.2" width="45.6" height="3.6" rx="1.8" fill="#f7f7f7" stroke="#050505" stroke-width="1.6"/>
<path d="M798.2,1140 H836.6 A3.6,3.6 0 0 1 840.2,1143.6 V1168.64 A6,6 0 0 1 834.2,1174.64 H800.6 A6,6 0 0 1 794.6,1168.64 V1143.6 A3.6,3.6 0 0 1 798.2,1140 Z" fill="#e8e8e8" stroke="#050505" stroke-width="1.6"/>
<rect x="794.6" y="1173.2" width="45.6" height="3.6" rx="1.8" fill="#f7f7f7" stroke="#050505" stroke-width="1.6"/>
<path d="M622.06,1072.4 H647.4 A3.6,3.6 0 0 1 651,1076 V1115.2 A3.6,3.6 0 0 1 647.4,1118.8 H622.06 A6,6 0 0 1 616.06,1112.8 V1078.4 A6,6 0 0 1 622.06,1072.4 Z" fill="#e8e8e8" stroke="#050505" stroke-width="1.6"/>
<rect x="613.9" y="1072.4" width="3.6" height="46.4" rx="1.8" fill="#f7f7f7" stroke="#050505" stroke-width="1.6"/>
<path d="M847.9,1072.4 H872.74 A6,6 0 0 1 878.74,1078.4 V1112.8 A6,6 0 0 1 872.74,1118.8 H847.9 A3.6,3.6 0 0 1 844.3,1115.2 V1076 A3.6,3.6 0 0 1 847.9,1072.4 Z" fill="#e8e8e8" stroke="#050505" stroke-width="1.6"/>
<rect x="877.3" y="1072.4" width="3.6" height="46.4" rx="1.8" fill="#f7f7f7" stroke="#050505" stroke-width="1.6"/>
<circle cx="747.5" cy="1095.5" r="27.9" fill="#fff"/>
<text x="747.5" y="1087.7" font-size="21.6" text-anchor="middle" class="n">10</text>
<text x="722.7" y="1104.1" font-size="15" textLength="49.6" lengthAdjust="spacingAndGlyphs" class="n">персон</text>
<rect x="1053.83" y="242.62" width="203.65" height="83.05" rx="12.6" fill="#c9c9c9" stroke="#262626" stroke-width="1.25"/>
<path d="M1074.2,205.16 H1108 A6,6 0 0 1 1114,211.16 V235.9 A3.6,3.6 0 0 1 1110.4,239.5 H1071.8 A3.6,3.6 0 0 1 1068.2,235.9 V211.16 A6,6 0 0 1 1074.2,205.16 Z" fill="#e8e8e8" stroke="#050505" stroke-width="1.6"/>
<rect x="1068.2" y="203" width="45.8" height="3.6" rx="1.8" fill="#f7f7f7" stroke="#050505" stroke-width="1.6"/>
<path d="M1139.6,205.16 H1173.4 A6,6 0 0 1 1179.4,211.16 V235.9 A3.6,3.6 0 0 1 1175.8,239.5 H1137.2 A3.6,3.6 0 0 1 1133.6,235.9 V211.16 A6,6 0 0 1 1139.6,205.16 Z" fill="#e8e8e8" stroke="#050505" stroke-width="1.6"/>
<rect x="1133.6" y="203" width="45.8" height="3.6" rx="1.8" fill="#f7f7f7" stroke="#050505" stroke-width="1.6"/>
<path d="M1206.3,205.16 H1240.1 A6,6 0 0 1 1246.1,211.16 V235.9 A3.6,3.6 0 0 1 1242.5,239.5 H1203.9 A3.6,3.6 0 0 1 1200.3,235.9 V211.16 A6,6 0 0 1 1206.3,205.16 Z" fill="#e8e8e8" stroke="#050505" stroke-width="1.6"/>
<rect x="1200.3" y="203" width="45.8" height="3.6" rx="1.8" fill="#f7f7f7" stroke="#050505" stroke-width="1.6"/>
<path d="M1071.8,329.2 H1110.4 A3.6,3.6 0 0 1 1114,332.8 V357.54 A6,6 0 0 1 1108,363.54 H1074.2 A6,6 0 0 1 1068.2,357.54 V332.8 A3.6,3.6 0 0 1 1071.8,329.2 Z" fill="#e8e8e8" stroke="#050505" stroke-width="1.6"/>
<rect x="1068.2" y="362.1" width="45.8" height="3.6" rx="1.8" fill="#f7f7f7" stroke="#050505" stroke-width="1.6"/>
<path d="M1137.2,329.2 H1175.8 A3.6,3.6 0 0 1 1179.4,332.8 V357.54 A6,6 0 0 1 1173.4,363.54 H1139.6 A6,6 0 0 1 1133.6,357.54 V332.8 A3.6,3.6 0 0 1 1137.2,329.2 Z" fill="#e8e8e8" stroke="#050505" stroke-width="1.6"/>
<rect x="1133.6" y="362.1" width="45.8" height="3.6" rx="1.8" fill="#f7f7f7" stroke="#050505" stroke-width="1.6"/>
<path d="M1203.9,329.2 H1242.5 A3.6,3.6 0 0 1 1246.1,332.8 V357.54 A6,6 0 0 1 1240.1,363.54 H1206.3 A6,6 0 0 1 1200.3,357.54 V332.8 A3.6,3.6 0 0 1 1203.9,329.2 Z" fill="#e8e8e8" stroke="#050505" stroke-width="1.6"/>
<rect x="1200.3" y="362.1" width="45.8" height="3.6" rx="1.8" fill="#f7f7f7" stroke="#050505" stroke-width="1.6"/>
<path d="M1020.76,261.3 H1045.4 A3.6,3.6 0 0 1 1049,264.9 V303.5 A3.6,3.6 0 0 1 1045.4,307.1 H1020.76 A6,6 0 0 1 1014.76,301.1 V267.3 A6,6 0 0 1 1020.76,261.3 Z" fill="#e8e8e8" stroke="#050505" stroke-width="1.6"/>
<rect x="1012.6" y="261.3" width="3.6" height="45.8" rx="1.8" fill="#f7f7f7" stroke="#050505" stroke-width="1.6"/>
<path d="M1265.9,261.3 H1290.54 A6,6 0 0 1 1296.54,267.3 V301.1 A6,6 0 0 1 1290.54,307.1 H1265.9 A3.6,3.6 0 0 1 1262.3,303.5 V264.9 A3.6,3.6 0 0 1 1265.9,261.3 Z" fill="#e8e8e8" stroke="#050505" stroke-width="1.6"/>
<rect x="1295.1" y="261.3" width="3.6" height="45.8" rx="1.8" fill="#f7f7f7" stroke="#050505" stroke-width="1.6"/>
<circle cx="1156.4" cy="284.4" r="28" fill="#fff"/>
<text x="1156.4" y="276.6" font-size="21.6" text-anchor="middle" class="n">8</text>
<text x="1131.6" y="293" font-size="15" textLength="49.6" lengthAdjust="spacingAndGlyphs" class="n">персон</text>
<rect x="1442.62" y="243.03" width="204.05" height="82.65" rx="12.6" fill="#c9c9c9" stroke="#262626" stroke-width="1.25"/>
<path d="M1451.1,205.16 H1484.5 A6,6 0 0 1 1490.5,211.16 V235.9 A3.6,3.6 0 0 1 1486.9,239.5 H1448.7 A3.6,3.6 0 0 1 1445.1,235.9 V211.16 A6,6 0 0 1 1451.1,205.16 Z" fill="#e8e8e8" stroke="#050505" stroke-width="1.6"/>
<rect x="1445.1" y="203" width="45.4" height="3.6" rx="1.8" fill="#f7f7f7" stroke="#050505" stroke-width="1.6"/>
<path d="M1502.2,205.16 H1535.6 A6,6 0 0 1 1541.6,211.16 V235.9 A3.6,3.6 0 0 1 1538,239.5 H1499.8 A3.6,3.6 0 0 1 1496.2,235.9 V211.16 A6,6 0 0 1 1502.2,205.16 Z" fill="#e8e8e8" stroke="#050505" stroke-width="1.6"/>
<rect x="1496.2" y="203" width="45.4" height="3.6" rx="1.8" fill="#f7f7f7" stroke="#050505" stroke-width="1.6"/>
<path d="M1553.2,205.16 H1586.6 A6,6 0 0 1 1592.6,211.16 V235.9 A3.6,3.6 0 0 1 1589,239.5 H1550.8 A3.6,3.6 0 0 1 1547.2,235.9 V211.16 A6,6 0 0 1 1553.2,205.16 Z" fill="#e8e8e8" stroke="#050505" stroke-width="1.6"/>
<rect x="1547.2" y="203" width="45.4" height="3.6" rx="1.8" fill="#f7f7f7" stroke="#050505" stroke-width="1.6"/>
<path d="M1604.5,205.16 H1637.9 A6,6 0 0 1 1643.9,211.16 V235.9 A3.6,3.6 0 0 1 1640.3,239.5 H1602.1 A3.6,3.6 0 0 1 1598.5,235.9 V211.16 A6,6 0 0 1 1604.5,205.16 Z" fill="#e8e8e8" stroke="#050505" stroke-width="1.6"/>
<rect x="1598.5" y="203" width="45.4" height="3.6" rx="1.8" fill="#f7f7f7" stroke="#050505" stroke-width="1.6"/>
<path d="M1448.7,329.2 H1486.9 A3.6,3.6 0 0 1 1490.5,332.8 V357.54 A6,6 0 0 1 1484.5,363.54 H1451.1 A6,6 0 0 1 1445.1,357.54 V332.8 A3.6,3.6 0 0 1 1448.7,329.2 Z" fill="#e8e8e8" stroke="#050505" stroke-width="1.6"/>
<rect x="1445.1" y="362.1" width="45.4" height="3.6" rx="1.8" fill="#f7f7f7" stroke="#050505" stroke-width="1.6"/>
<path d="M1499.8,329.2 H1538 A3.6,3.6 0 0 1 1541.6,332.8 V357.54 A6,6 0 0 1 1535.6,363.54 H1502.2 A6,6 0 0 1 1496.2,357.54 V332.8 A3.6,3.6 0 0 1 1499.8,329.2 Z" fill="#e8e8e8" stroke="#050505" stroke-width="1.6"/>
<rect x="1496.2" y="362.1" width="45.4" height="3.6" rx="1.8" fill="#f7f7f7" stroke="#050505" stroke-width="1.6"/>
<path d="M1550.8,329.2 H1589 A3.6,3.6 0 0 1 1592.6,332.8 V357.54 A6,6 0 0 1 1586.6,363.54 H1553.2 A6,6 0 0 1 1547.2,357.54 V332.8 A3.6,3.6 0 0 1 1550.8,329.2 Z" fill="#e8e8e8" stroke="#050505" stroke-width="1.6"/>
<rect x="1547.2" y="362.1" width="45.4" height="3.6" rx="1.8" fill="#f7f7f7" stroke="#050505" stroke-width="1.6"/>
<path d="M1602.1,329.2 H1640.3 A3.6,3.6 0 0 1 1643.9,332.8 V357.54 A6,6 0 0 1 1637.9,363.54 H1604.5 A6,6 0 0 1 1598.5,357.54 V332.8 A3.6,3.6 0 0 1 1602.1,329.2 Z" fill="#e8e8e8" stroke="#050505" stroke-width="1.6"/>
<rect x="1598.5" y="362.1" width="45.4" height="3.6" rx="1.8" fill="#f7f7f7" stroke="#050505" stroke-width="1.6"/>
<path d="M1410.46,261.3 H1435.4 A3.6,3.6 0 0 1 1439,264.9 V303.5 A3.6,3.6 0 0 1 1435.4,307.1 H1410.46 A6,6 0 0 1 1404.46,301.1 V267.3 A6,6 0 0 1 1410.46,261.3 Z" fill="#e8e8e8" stroke="#050505" stroke-width="1.6"/>
<rect x="1402.3" y="261.3" width="3.6" height="45.8" rx="1.8" fill="#f7f7f7" stroke="#050505" stroke-width="1.6"/>
<path d="M1654.2,261.3 H1678.84 A6,6 0 0 1 1684.84,267.3 V301.1 A6,6 0 0 1 1678.84,307.1 H1654.2 A3.6,3.6 0 0 1 1650.6,303.5 V264.9 A3.6,3.6 0 0 1 1654.2,261.3 Z" fill="#e8e8e8" stroke="#050505" stroke-width="1.6"/>
<rect x="1683.4" y="261.3" width="3.6" height="45.8" rx="1.8" fill="#f7f7f7" stroke="#050505" stroke-width="1.6"/>
<circle cx="1544.7" cy="284.4" r="28" fill="#fff"/>
<text x="1544.7" y="276.6" font-size="21.6" text-anchor="middle" class="n">10</text>
<text x="1519.9" y="293" font-size="15" textLength="49.6" lengthAdjust="spacingAndGlyphs" class="n">персон</text>
<rect x="1039.92" y="618.62" width="231.65" height="91.85" rx="15" fill="#c9c9c9" stroke="#262626" stroke-width="1.25"/>
<path d="M1057,580.86 H1090.9 A6,6 0 0 1 1096.9,586.86 V611.7 A3.6,3.6 0 0 1 1093.3,615.3 H1054.6 A3.6,3.6 0 0 1 1051,611.7 V586.86 A6,6 0 0 1 1057,580.86 Z" fill="#e8e8e8" stroke="#050505" stroke-width="1.6"/>
<rect x="1051" y="578.7" width="45.9" height="3.6" rx="1.8" fill="#f7f7f7" stroke="#050505" stroke-width="1.6"/>
<path d="M1111.6,580.86 H1145.5 A6,6 0 0 1 1151.5,586.86 V611.7 A3.6,3.6 0 0 1 1147.9,615.3 H1109.2 A3.6,3.6 0 0 1 1105.6,611.7 V586.86 A6,6 0 0 1 1111.6,580.86 Z" fill="#e8e8e8" stroke="#050505" stroke-width="1.6"/>
<rect x="1105.6" y="578.7" width="45.9" height="3.6" rx="1.8" fill="#f7f7f7" stroke="#050505" stroke-width="1.6"/>
<path d="M1165.8,580.86 H1199.7 A6,6 0 0 1 1205.7,586.86 V611.7 A3.6,3.6 0 0 1 1202.1,615.3 H1163.4 A3.6,3.6 0 0 1 1159.8,611.7 V586.86 A6,6 0 0 1 1165.8,580.86 Z" fill="#e8e8e8" stroke="#050505" stroke-width="1.6"/>
<rect x="1159.8" y="578.7" width="45.9" height="3.6" rx="1.8" fill="#f7f7f7" stroke="#050505" stroke-width="1.6"/>
<path d="M1220.3,580.86 H1254.2 A6,6 0 0 1 1260.2,586.86 V611.7 A3.6,3.6 0 0 1 1256.6,615.3 H1217.9 A3.6,3.6 0 0 1 1214.3,611.7 V586.86 A6,6 0 0 1 1220.3,580.86 Z" fill="#e8e8e8" stroke="#050505" stroke-width="1.6"/>
<rect x="1214.3" y="578.7" width="45.9" height="3.6" rx="1.8" fill="#f7f7f7" stroke="#050505" stroke-width="1.6"/>
<path d="M1054.6,713.8 H1093.3 A3.6,3.6 0 0 1 1096.9,717.4 V742.04 A6,6 0 0 1 1090.9,748.04 H1057 A6,6 0 0 1 1051,742.04 V717.4 A3.6,3.6 0 0 1 1054.6,713.8 Z" fill="#e8e8e8" stroke="#050505" stroke-width="1.6"/>
<rect x="1051" y="746.6" width="45.9" height="3.6" rx="1.8" fill="#f7f7f7" stroke="#050505" stroke-width="1.6"/>
<path d="M1109.2,713.8 H1147.9 A3.6,3.6 0 0 1 1151.5,717.4 V742.04 A6,6 0 0 1 1145.5,748.04 H1111.6 A6,6 0 0 1 1105.6,742.04 V717.4 A3.6,3.6 0 0 1 1109.2,713.8 Z" fill="#e8e8e8" stroke="#050505" stroke-width="1.6"/>
<rect x="1105.6" y="746.6" width="45.9" height="3.6" rx="1.8" fill="#f7f7f7" stroke="#050505" stroke-width="1.6"/>
<path d="M1163.4,713.8 H1202.1 A3.6,3.6 0 0 1 1205.7,717.4 V742.04 A6,6 0 0 1 1199.7,748.04 H1165.8 A6,6 0 0 1 1159.8,742.04 V717.4 A3.6,3.6 0 0 1 1163.4,713.8 Z" fill="#e8e8e8" stroke="#050505" stroke-width="1.6"/>
<rect x="1159.8" y="746.6" width="45.9" height="3.6" rx="1.8" fill="#f7f7f7" stroke="#050505" stroke-width="1.6"/>
<path d="M1217.9,713.8 H1256.6 A3.6,3.6 0 0 1 1260.2,717.4 V742.04 A6,6 0 0 1 1254.2,748.04 H1220.3 A6,6 0 0 1 1214.3,742.04 V717.4 A3.6,3.6 0 0 1 1217.9,713.8 Z" fill="#e8e8e8" stroke="#050505" stroke-width="1.6"/>
<rect x="1214.3" y="746.6" width="45.9" height="3.6" rx="1.8" fill="#f7f7f7" stroke="#050505" stroke-width="1.6"/>
<path d="M1006.46,643.2 H1031.3 A3.6,3.6 0 0 1 1034.9,646.8 V685.4 A3.6,3.6 0 0 1 1031.3,689 H1006.46 A6,6 0 0 1 1000.46,683 V649.2 A6,6 0 0 1 1006.46,643.2 Z" fill="#e8e8e8" stroke="#050505" stroke-width="1.6"/>
<rect x="998.3" y="643.2" width="3.6" height="45.8" rx="1.8" fill="#f7f7f7" stroke="#050505" stroke-width="1.6"/>
<path d="M1279.4,643.2 H1304.64 A6,6 0 0 1 1310.64,649.2 V683 A6,6 0 0 1 1304.64,689 H1279.4 A3.6,3.6 0 0 1 1275.8,685.4 V646.8 A3.6,3.6 0 0 1 1279.4,643.2 Z" fill="#e8e8e8" stroke="#050505" stroke-width="1.6"/>
<rect x="1309.2" y="643.2" width="3.6" height="45.8" rx="1.8" fill="#f7f7f7" stroke="#050505" stroke-width="1.6"/>
<circle cx="1155.4" cy="664.8" r="28" fill="#fff"/>
<text x="1155.4" y="657" font-size="21.6" text-anchor="middle" class="n">10</text>
<text x="1130.6" y="673.4" font-size="15" textLength="49.6" lengthAdjust="spacingAndGlyphs" class="n">персон</text>
<rect x="1429.53" y="618.62" width="231.55" height="91.85" rx="15" fill="#c9c9c9" stroke="#262626" stroke-width="1.25"/>
<path d="M1433.8,580.86 H1467.2 A6,6 0 0 1 1473.2,586.86 V611.7 A3.6,3.6 0 0 1 1469.6,615.3 H1431.4 A3.6,3.6 0 0 1 1427.8,611.7 V586.86 A6,6 0 0 1 1433.8,580.86 Z" fill="#e8e8e8" stroke="#050505" stroke-width="1.6"/>
<rect x="1427.8" y="578.7" width="45.4" height="3.6" rx="1.8" fill="#f7f7f7" stroke="#050505" stroke-width="1.6"/>
<path d="M1480.84,580.86 H1514.24 A6,6 0 0 1 1520.24,586.86 V611.7 A3.6,3.6 0 0 1 1516.64,615.3 H1478.44 A3.6,3.6 0 0 1 1474.84,611.7 V586.86 A6,6 0 0 1 1480.84,580.86 Z" fill="#e8e8e8" stroke="#050505" stroke-width="1.6"/>
<rect x="1474.84" y="578.7" width="45.4" height="3.6" rx="1.8" fill="#f7f7f7" stroke="#050505" stroke-width="1.6"/>
<path d="M1527.88,580.86 H1561.28 A6,6 0 0 1 1567.28,586.86 V611.7 A3.6,3.6 0 0 1 1563.68,615.3 H1525.48 A3.6,3.6 0 0 1 1521.88,611.7 V586.86 A6,6 0 0 1 1527.88,580.86 Z" fill="#e8e8e8" stroke="#050505" stroke-width="1.6"/>
<rect x="1521.88" y="578.7" width="45.4" height="3.6" rx="1.8" fill="#f7f7f7" stroke="#050505" stroke-width="1.6"/>
<path d="M1574.92,580.86 H1608.32 A6,6 0 0 1 1614.32,586.86 V611.7 A3.6,3.6 0 0 1 1610.72,615.3 H1572.52 A3.6,3.6 0 0 1 1568.92,611.7 V586.86 A6,6 0 0 1 1574.92,580.86 Z" fill="#e8e8e8" stroke="#050505" stroke-width="1.6"/>
<rect x="1568.92" y="578.7" width="45.4" height="3.6" rx="1.8" fill="#f7f7f7" stroke="#050505" stroke-width="1.6"/>
<path d="M1621.96,580.86 H1655.36 A6,6 0 0 1 1661.36,586.86 V611.7 A3.6,3.6 0 0 1 1657.76,615.3 H1619.56 A3.6,3.6 0 0 1 1615.96,611.7 V586.86 A6,6 0 0 1 1621.96,580.86 Z" fill="#e8e8e8" stroke="#050505" stroke-width="1.6"/>
<rect x="1615.96" y="578.7" width="45.4" height="3.6" rx="1.8" fill="#f7f7f7" stroke="#050505" stroke-width="1.6"/>
<path d="M1431.4,713.8 H1469.6 A3.6,3.6 0 0 1 1473.2,717.4 V742.04 A6,6 0 0 1 1467.2,748.04 H1433.8 A6,6 0 0 1 1427.8,742.04 V717.4 A3.6,3.6 0 0 1 1431.4,713.8 Z" fill="#e8e8e8" stroke="#050505" stroke-width="1.6"/>
<rect x="1427.8" y="746.6" width="45.4" height="3.6" rx="1.8" fill="#f7f7f7" stroke="#050505" stroke-width="1.6"/>
<path d="M1478.44,713.8 H1516.64 A3.6,3.6 0 0 1 1520.24,717.4 V742.04 A6,6 0 0 1 1514.24,748.04 H1480.84 A6,6 0 0 1 1474.84,742.04 V717.4 A3.6,3.6 0 0 1 1478.44,713.8 Z" fill="#e8e8e8" stroke="#050505" stroke-width="1.6"/>
<rect x="1474.84" y="746.6" width="45.4" height="3.6" rx="1.8" fill="#f7f7f7" stroke="#050505" stroke-width="1.6"/>
<path d="M1525.48,713.8 H1563.68 A3.6,3.6 0 0 1 1567.28,717.4 V742.04 A6,6 0 0 1 1561.28,748.04 H1527.88 A6,6 0 0 1 1521.88,742.04 V717.4 A3.6,3.6 0 0 1 1525.48,713.8 Z" fill="#e8e8e8" stroke="#050505" stroke-width="1.6"/>
<rect x="1521.88" y="746.6" width="45.4" height="3.6" rx="1.8" fill="#f7f7f7" stroke="#050505" stroke-width="1.6"/>
<path d="M1572.52,713.8 H1610.72 A3.6,3.6 0 0 1 1614.32,717.4 V742.04 A6,6 0 0 1 1608.32,748.04 H1574.92 A6,6 0 0 1 1568.92,742.04 V717.4 A3.6,3.6 0 0 1 1572.52,713.8 Z" fill="#e8e8e8" stroke="#050505" stroke-width="1.6"/>
<rect x="1568.92" y="746.6" width="45.4" height="3.6" rx="1.8" fill="#f7f7f7" stroke="#050505" stroke-width="1.6"/>
<path d="M1619.56,713.8 H1657.76 A3.6,3.6 0 0 1 1661.36,717.4 V742.04 A6,6 0 0 1 1655.36,748.04 H1621.96 A6,6 0 0 1 1615.96,742.04 V717.4 A3.6,3.6 0 0 1 1619.56,713.8 Z" fill="#e8e8e8" stroke="#050505" stroke-width="1.6"/>
<rect x="1615.96" y="746.6" width="45.4" height="3.6" rx="1.8" fill="#f7f7f7" stroke="#050505" stroke-width="1.6"/>
<path d="M1397.46,643.2 H1422.3 A3.6,3.6 0 0 1 1425.9,646.8 V686 A3.6,3.6 0 0 1 1422.3,689.6 H1397.46 A6,6 0 0 1 1391.46,683.6 V649.2 A6,6 0 0 1 1397.46,643.2 Z" fill="#e8e8e8" stroke="#050505" stroke-width="1.6"/>
<rect x="1389.3" y="643.2" width="3.6" height="46.4" rx="1.8" fill="#f7f7f7" stroke="#050505" stroke-width="1.6"/>
<path d="M1667.6,645.1 H1691.84 A6,6 0 0 1 1697.84,651.1 V685.1 A6,6 0 0 1 1691.84,691.1 H1667.6 A3.6,3.6 0 0 1 1664,687.5 V648.7 A3.6,3.6 0 0 1 1667.6,645.1 Z" fill="#e8e8e8" stroke="#050505" stroke-width="1.6"/>
<rect x="1696.4" y="645.1" width="3.6" height="46" rx="1.8" fill="#f7f7f7" stroke="#050505" stroke-width="1.6"/>
<circle cx="1544.8" cy="664.8" r="28" fill="#fff"/>
<text x="1544.8" y="657" font-size="21.6" text-anchor="middle" class="n">12</text>
<text x="1520" y="673.4" font-size="15" textLength="49.6" lengthAdjust="spacingAndGlyphs" class="n">персон</text>
<rect x="1030.53" y="1012.12" width="250.15" height="110.45" rx="15.5" fill="#c9c9c9" stroke="#262626" stroke-width="1.25"/>
<path d="M1039.1,973.96 H1072.9 A6,6 0 0 1 1078.9,979.96 V1004.5 A3.6,3.6 0 0 1 1075.3,1008.1 H1036.7 A3.6,3.6 0 0 1 1033.1,1004.5 V979.96 A6,6 0 0 1 1039.1,973.96 Z" fill="#e8e8e8" stroke="#050505" stroke-width="1.6"/>
<rect x="1033.1" y="971.8" width="45.8" height="3.6" rx="1.8" fill="#f7f7f7" stroke="#050505" stroke-width="1.6"/>
<path d="M1089.6,973.96 H1123.4 A6,6 0 0 1 1129.4,979.96 V1004.5 A3.6,3.6 0 0 1 1125.8,1008.1 H1087.2 A3.6,3.6 0 0 1 1083.6,1004.5 V979.96 A6,6 0 0 1 1089.6,973.96 Z" fill="#e8e8e8" stroke="#050505" stroke-width="1.6"/>
<rect x="1083.6" y="971.8" width="45.8" height="3.6" rx="1.8" fill="#f7f7f7" stroke="#050505" stroke-width="1.6"/>
<path d="M1139.9,973.96 H1173.7 A6,6 0 0 1 1179.7,979.96 V1004.5 A3.6,3.6 0 0 1 1176.1,1008.1 H1137.5 A3.6,3.6 0 0 1 1133.9,1004.5 V979.96 A6,6 0 0 1 1139.9,973.96 Z" fill="#e8e8e8" stroke="#050505" stroke-width="1.6"/>
<rect x="1133.9" y="971.8" width="45.8" height="3.6" rx="1.8" fill="#f7f7f7" stroke="#050505" stroke-width="1.6"/>
<path d="M1190,973.96 H1223.8 A6,6 0 0 1 1229.8,979.96 V1004.5 A3.6,3.6 0 0 1 1226.2,1008.1 H1187.6 A3.6,3.6 0 0 1 1184,1004.5 V979.96 A6,6 0 0 1 1190,973.96 Z" fill="#e8e8e8" stroke="#050505" stroke-width="1.6"/>
<rect x="1184" y="971.8" width="45.8" height="3.6" rx="1.8" fill="#f7f7f7" stroke="#050505" stroke-width="1.6"/>
<path d="M1240.2,973.96 H1274 A6,6 0 0 1 1280,979.96 V1004.5 A3.6,3.6 0 0 1 1276.4,1008.1 H1237.8 A3.6,3.6 0 0 1 1234.2,1004.5 V979.96 A6,6 0 0 1 1240.2,973.96 Z" fill="#e8e8e8" stroke="#050505" stroke-width="1.6"/>
<rect x="1234.2" y="971.8" width="45.8" height="3.6" rx="1.8" fill="#f7f7f7" stroke="#050505" stroke-width="1.6"/>
<path d="M1036.7,1126.8 H1075.3 A3.6,3.6 0 0 1 1078.9,1130.4 V1155.54 A6,6 0 0 1 1072.9,1161.54 H1039.1 A6,6 0 0 1 1033.1,1155.54 V1130.4 A3.6,3.6 0 0 1 1036.7,1126.8 Z" fill="#e8e8e8" stroke="#050505" stroke-width="1.6"/>
<rect x="1033.1" y="1160.1" width="45.8" height="3.6" rx="1.8" fill="#f7f7f7" stroke="#050505" stroke-width="1.6"/>
<path d="M1087.2,1126.8 H1125.8 A3.6,3.6 0 0 1 1129.4,1130.4 V1155.54 A6,6 0 0 1 1123.4,1161.54 H1089.6 A6,6 0 0 1 1083.6,1155.54 V1130.4 A3.6,3.6 0 0 1 1087.2,1126.8 Z" fill="#e8e8e8" stroke="#050505" stroke-width="1.6"/>
<rect x="1083.6" y="1160.1" width="45.8" height="3.6" rx="1.8" fill="#f7f7f7" stroke="#050505" stroke-width="1.6"/>
<path d="M1137.5,1126.8 H1176.1 A3.6,3.6 0 0 1 1179.7,1130.4 V1155.54 A6,6 0 0 1 1173.7,1161.54 H1139.9 A6,6 0 0 1 1133.9,1155.54 V1130.4 A3.6,3.6 0 0 1 1137.5,1126.8 Z" fill="#e8e8e8" stroke="#050505" stroke-width="1.6"/>
<rect x="1133.9" y="1160.1" width="45.8" height="3.6" rx="1.8" fill="#f7f7f7" stroke="#050505" stroke-width="1.6"/>
<path d="M1187.6,1126.8 H1226.2 A3.6,3.6 0 0 1 1229.8,1130.4 V1155.54 A6,6 0 0 1 1223.8,1161.54 H1190 A6,6 0 0 1 1184,1155.54 V1130.4 A3.6,3.6 0 0 1 1187.6,1126.8 Z" fill="#e8e8e8" stroke="#050505" stroke-width="1.6"/>
<rect x="1184" y="1160.1" width="45.8" height="3.6" rx="1.8" fill="#f7f7f7" stroke="#050505" stroke-width="1.6"/>
<path d="M1237.8,1126.8 H1276.4 A3.6,3.6 0 0 1 1280,1130.4 V1155.54 A6,6 0 0 1 1274,1161.54 H1240.2 A6,6 0 0 1 1234.2,1155.54 V1130.4 A3.6,3.6 0 0 1 1237.8,1126.8 Z" fill="#e8e8e8" stroke="#050505" stroke-width="1.6"/>
<rect x="1234.2" y="1160.1" width="45.8" height="3.6" rx="1.8" fill="#f7f7f7" stroke="#050505" stroke-width="1.6"/>
<path d="M997.96,1044.6 H1022.5 A3.6,3.6 0 0 1 1026.1,1048.2 V1086.9 A3.6,3.6 0 0 1 1022.5,1090.5 H997.96 A6,6 0 0 1 991.96,1084.5 V1050.6 A6,6 0 0 1 997.96,1044.6 Z" fill="#e8e8e8" stroke="#050505" stroke-width="1.6"/>
<rect x="989.8" y="1044.6" width="3.6" height="45.9" rx="1.8" fill="#f7f7f7" stroke="#050505" stroke-width="1.6"/>
<path d="M1288.7,1044.6 H1313.34 A6,6 0 0 1 1319.34,1050.6 V1084.5 A6,6 0 0 1 1313.34,1090.5 H1288.7 A3.6,3.6 0 0 1 1285.1,1086.9 V1048.2 A3.6,3.6 0 0 1 1288.7,1044.6 Z" fill="#e8e8e8" stroke="#050505" stroke-width="1.6"/>
<rect x="1317.9" y="1044.6" width="3.6" height="45.9" rx="1.8" fill="#f7f7f7" stroke="#050505" stroke-width="1.6"/>
<circle cx="1156.6" cy="1066.9" r="28" fill="#fff"/>
<text x="1156.6" y="1059.1" font-size="21.6" text-anchor="middle" class="n">12</text>
<text x="1131.8" y="1075.5" font-size="15" textLength="49.6" lengthAdjust="spacingAndGlyphs" class="n">персон</text>
<rect x="1420.12" y="1012.12" width="250.25" height="110.45" rx="15.5" fill="#c9c9c9" stroke="#262626" stroke-width="1.25"/>
<path d="M1428.7,973.96 H1462.4 A6,6 0 0 1 1468.4,979.96 V1004.5 A3.6,3.6 0 0 1 1464.8,1008.1 H1426.3 A3.6,3.6 0 0 1 1422.7,1004.5 V979.96 A6,6 0 0 1 1428.7,973.96 Z" fill="#e8e8e8" stroke="#050505" stroke-width="1.6"/>
<rect x="1422.7" y="971.8" width="45.7" height="3.6" rx="1.8" fill="#f7f7f7" stroke="#050505" stroke-width="1.6"/>
<path d="M1479,973.96 H1512.7 A6,6 0 0 1 1518.7,979.96 V1004.5 A3.6,3.6 0 0 1 1515.1,1008.1 H1476.6 A3.6,3.6 0 0 1 1473,1004.5 V979.96 A6,6 0 0 1 1479,973.96 Z" fill="#e8e8e8" stroke="#050505" stroke-width="1.6"/>
<rect x="1473" y="971.8" width="45.7" height="3.6" rx="1.8" fill="#f7f7f7" stroke="#050505" stroke-width="1.6"/>
<path d="M1529.5,973.96 H1563.2 A6,6 0 0 1 1569.2,979.96 V1004.5 A3.6,3.6 0 0 1 1565.6,1008.1 H1527.1 A3.6,3.6 0 0 1 1523.5,1004.5 V979.96 A6,6 0 0 1 1529.5,973.96 Z" fill="#e8e8e8" stroke="#050505" stroke-width="1.6"/>
<rect x="1523.5" y="971.8" width="45.7" height="3.6" rx="1.8" fill="#f7f7f7" stroke="#050505" stroke-width="1.6"/>
<path d="M1579.8,973.96 H1613.5 A6,6 0 0 1 1619.5,979.96 V1004.5 A3.6,3.6 0 0 1 1615.9,1008.1 H1577.4 A3.6,3.6 0 0 1 1573.8,1004.5 V979.96 A6,6 0 0 1 1579.8,973.96 Z" fill="#e8e8e8" stroke="#050505" stroke-width="1.6"/>
<rect x="1573.8" y="971.8" width="45.7" height="3.6" rx="1.8" fill="#f7f7f7" stroke="#050505" stroke-width="1.6"/>
<path d="M1630.2,973.96 H1663.9 A6,6 0 0 1 1669.9,979.96 V1004.5 A3.6,3.6 0 0 1 1666.3,1008.1 H1627.8 A3.6,3.6 0 0 1 1624.2,1004.5 V979.96 A6,6 0 0 1 1630.2,973.96 Z" fill="#e8e8e8" stroke="#050505" stroke-width="1.6"/>
<rect x="1624.2" y="971.8" width="45.7" height="3.6" rx="1.8" fill="#f7f7f7" stroke="#050505" stroke-width="1.6"/>
<path d="M1426.3,1126.8 H1464.8 A3.6,3.6 0 0 1 1468.4,1130.4 V1155.54 A6,6 0 0 1 1462.4,1161.54 H1428.7 A6,6 0 0 1 1422.7,1155.54 V1130.4 A3.6,3.6 0 0 1 1426.3,1126.8 Z" fill="#e8e8e8" stroke="#050505" stroke-width="1.6"/>
<rect x="1422.7" y="1160.1" width="45.7" height="3.6" rx="1.8" fill="#f7f7f7" stroke="#050505" stroke-width="1.6"/>
<path d="M1476.6,1126.8 H1515.1 A3.6,3.6 0 0 1 1518.7,1130.4 V1155.54 A6,6 0 0 1 1512.7,1161.54 H1479 A6,6 0 0 1 1473,1155.54 V1130.4 A3.6,3.6 0 0 1 1476.6,1126.8 Z" fill="#e8e8e8" stroke="#050505" stroke-width="1.6"/>
<rect x="1473" y="1160.1" width="45.7" height="3.6" rx="1.8" fill="#f7f7f7" stroke="#050505" stroke-width="1.6"/>
<path d="M1527.1,1126.8 H1565.6 A3.6,3.6 0 0 1 1569.2,1130.4 V1155.54 A6,6 0 0 1 1563.2,1161.54 H1529.5 A6,6 0 0 1 1523.5,1155.54 V1130.4 A3.6,3.6 0 0 1 1527.1,1126.8 Z" fill="#e8e8e8" stroke="#050505" stroke-width="1.6"/>
<rect x="1523.5" y="1160.1" width="45.7" height="3.6" rx="1.8" fill="#f7f7f7" stroke="#050505" stroke-width="1.6"/>
<path d="M1577.4,1126.8 H1615.9 A3.6,3.6 0 0 1 1619.5,1130.4 V1155.54 A6,6 0 0 1 1613.5,1161.54 H1579.8 A6,6 0 0 1 1573.8,1155.54 V1130.4 A3.6,3.6 0 0 1 1577.4,1126.8 Z" fill="#e8e8e8" stroke="#050505" stroke-width="1.6"/>
<rect x="1573.8" y="1160.1" width="45.7" height="3.6" rx="1.8" fill="#f7f7f7" stroke="#050505" stroke-width="1.6"/>
<path d="M1627.8,1126.8 H1666.3 A3.6,3.6 0 0 1 1669.9,1130.4 V1155.54 A6,6 0 0 1 1663.9,1161.54 H1630.2 A6,6 0 0 1 1624.2,1155.54 V1130.4 A3.6,3.6 0 0 1 1627.8,1126.8 Z" fill="#e8e8e8" stroke="#050505" stroke-width="1.6"/>
<rect x="1624.2" y="1160.1" width="45.7" height="3.6" rx="1.8" fill="#f7f7f7" stroke="#050505" stroke-width="1.6"/>
<path d="M1387.36,1018.7 H1412.1 A3.6,3.6 0 0 1 1415.7,1022.3 V1060.8 A3.6,3.6 0 0 1 1412.1,1064.4 H1387.36 A6,6 0 0 1 1381.36,1058.4 V1024.7 A6,6 0 0 1 1387.36,1018.7 Z" fill="#e8e8e8" stroke="#050505" stroke-width="1.6"/>
<rect x="1379.2" y="1018.7" width="3.6" height="45.7" rx="1.8" fill="#f7f7f7" stroke="#050505" stroke-width="1.6"/>
<path d="M1387.36,1072.6 H1412.1 A3.6,3.6 0 0 1 1415.7,1076.2 V1114.3 A3.6,3.6 0 0 1 1412.1,1117.9 H1387.36 A6,6 0 0 1 1381.36,1111.9 V1078.6 A6,6 0 0 1 1387.36,1072.6 Z" fill="#e8e8e8" stroke="#050505" stroke-width="1.6"/>
<rect x="1379.2" y="1072.6" width="3.6" height="45.3" rx="1.8" fill="#f7f7f7" stroke="#050505" stroke-width="1.6"/>
<path d="M1677.7,1018.3 H1702.24 A6,6 0 0 1 1708.24,1024.3 V1057.8 A6,6 0 0 1 1702.24,1063.8 H1677.7 A3.6,3.6 0 0 1 1674.1,1060.2 V1021.9 A3.6,3.6 0 0 1 1677.7,1018.3 Z" fill="#e8e8e8" stroke="#050505" stroke-width="1.6"/>
<rect x="1706.8" y="1018.3" width="3.6" height="45.5" rx="1.8" fill="#f7f7f7" stroke="#050505" stroke-width="1.6"/>
<path d="M1677.7,1072.2 H1702.24 A6,6 0 0 1 1708.24,1078.2 V1111.9 A6,6 0 0 1 1702.24,1117.9 H1677.7 A3.6,3.6 0 0 1 1674.1,1114.3 V1075.8 A3.6,3.6 0 0 1 1677.7,1072.2 Z" fill="#e8e8e8" stroke="#050505" stroke-width="1.6"/>
<rect x="1706.8" y="1072.2" width="3.6" height="45.7" rx="1.8" fill="#f7f7f7" stroke="#050505" stroke-width="1.6"/>
<circle cx="1546" cy="1067" r="28" fill="#fff"/>
<text x="1546" y="1059.2" font-size="21.6" text-anchor="middle" class="n">14</text>
<text x="1521.2" y="1075.6" font-size="15" textLength="49.6" lengthAdjust="spacingAndGlyphs" class="n">персон</text>
</svg>
</body></html>
